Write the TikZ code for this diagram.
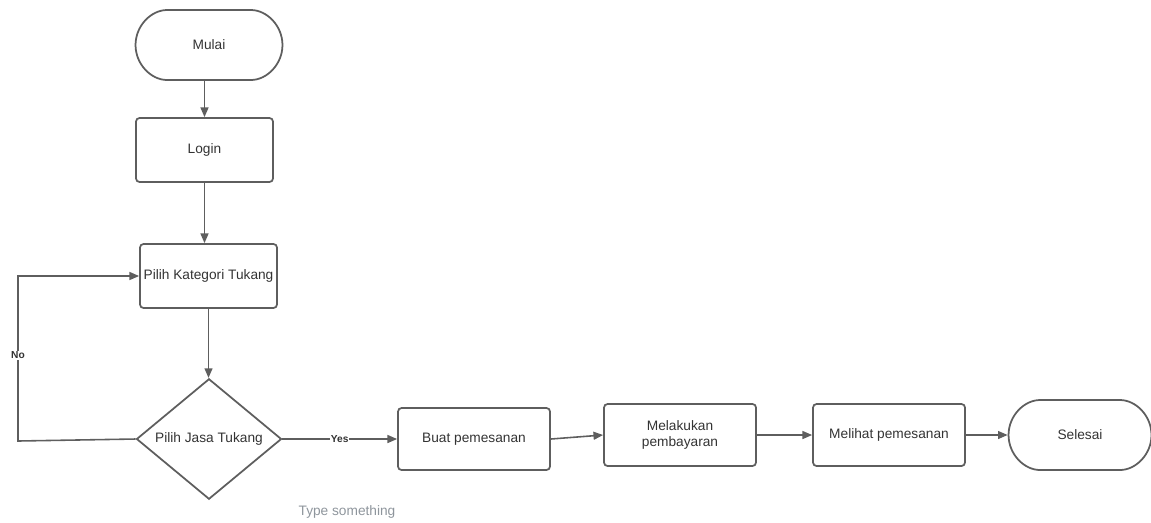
\documentclass[tikz,border=0pt]{standalone}
\usepackage{fontspec}
\setmainfont{Liberation Sans}
\usepackage{xcolor}
\usepackage{tikz}
\usetikzlibrary{shapes,shapes.geometric,shapes.misc,arrows.meta,positioning,calc}

\definecolor{lineGray}{HTML}{5E5E5E}
\definecolor{textGray}{HTML}{333333}
\definecolor{hintGray}{HTML}{8E959C}

\begin{document}
\begin{tikzpicture}[x=0.02cm, y=-0.02cm,
      box/.style={rectangle, draw=lineGray, line width=1pt, rounded corners=2pt,
                  minimum height=1.28cm, minimum width=2.74cm,
                  align=center, inner sep=2pt, text=textGray,
                  font=\fontsize{7.8}{9.4}\selectfont},
      term/.style={box, rounded rectangle, minimum width=3.08cm, minimum height=1.4cm},
      wide/.style={box, minimum width=3.04cm, minimum height=1.24cm},
      decide/.style={box, diamond, rounded corners=0pt, inner sep=0pt,
                     minimum width=2.9cm, minimum height=2.4cm},
      arr/.style={-{Triangle[length=5.5pt,width=4.5pt]}, draw=lineGray,
                  line width=0.9pt},
      lbl/.style={font=\bfseries\fontsize{5.8}{7}\selectfont, text=textGray,
                  fill=white, inner sep=0.5pt},
    ]
    \useasboundingbox (0,0) rectangle (1151,522);

    % Column: start to the choice
    \node[term] (mulai) at (209, 45) {Mulai};
    \node[box] (login) at (204.5, 150) {Login};
    \node[box] (kategori) at (208.5, 276) {Pilih Kategori Tukang};
    \node[decide] (jasa) at (209, 439) {Pilih Jasa Tukang};

    % Row: order to finish
    \node[wide] (buat) at (474, 439) {Buat pemesanan};
    \node[wide] (bayar) at (680, 435) {Melakukan\\pembayaran};
    \node[wide] (lihat) at (889, 435) {Melihat pemesanan};
    \node[term, minimum width=3cm] (selesai) at (1080, 435) {Selesai};

    % Loose text under the row
    \node[font=\fontsize{7.8}{9.4}\selectfont, text=hintGray] (hint) at (347, 512) {Type something};

    % Arrows: down the column
    \draw[arr] (login.north |- mulai.south) -- (login.north);
    \draw[arr] (login.south) -- (login.south |- kategori.north);
    \draw[arr] (kategori.south) -- (kategori.south |- jasa.north);

    % Arrow: back to the category
    \coordinate (nobend) at (18, 441);
    \draw[arr] (jasa.west) -- (nobend) |- node[lbl, pos=0.26] {No} (kategori.west);

    % Arrows: along the row
    \draw[arr] (jasa.east) -- node[lbl, pos=0.5] {Yes} (buat.west);
    \draw[arr] (buat.east) -- (bayar.west);
    \draw[arr] (bayar.east) -- (lihat.west);
    \draw[arr] (lihat.east) -- (selesai.west);

\end{tikzpicture}
\end{document}
